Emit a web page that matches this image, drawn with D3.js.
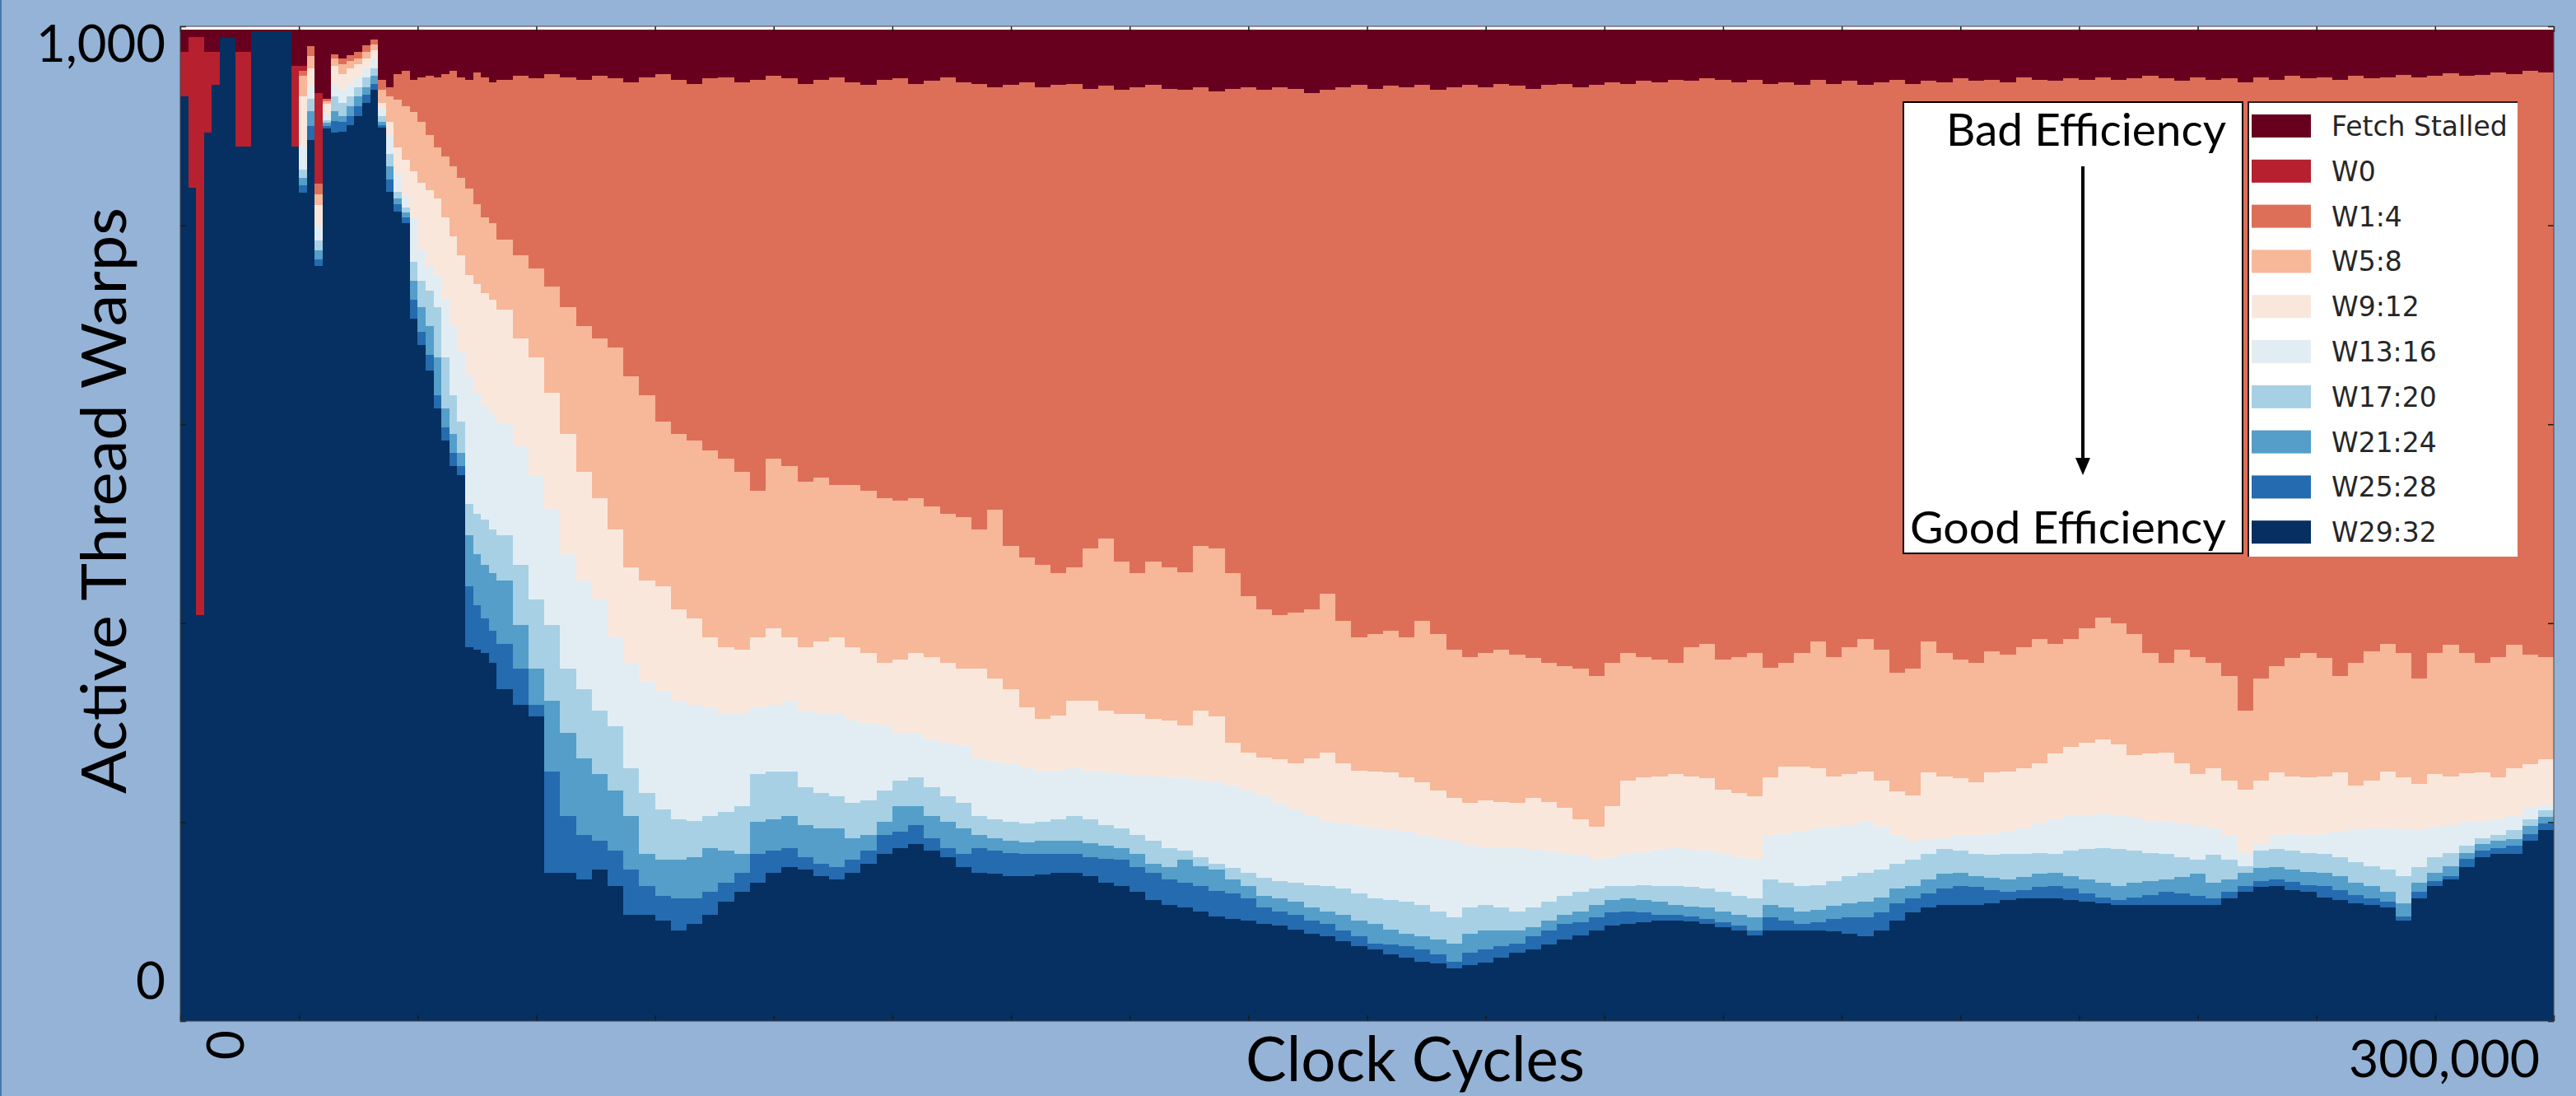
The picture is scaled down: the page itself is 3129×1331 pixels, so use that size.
<!DOCTYPE html>
<html>
<head>
<meta charset="utf-8">
<script src="https://cdn.jsdelivr.net/npm/d3@7"></script>
<style>
html, body { margin: 0; padding: 0; background: #95b3d7; }
svg { display: block; }
</style>
</head>
<body>
<svg id="chart" width="3129" height="1331"></svg>
<script>
// upper edge of each band (cumulative warps)
// 40 bins of 1,000 cycles, then 130 bins of 2,000 cycles
var edgeW29_32 = [930,838,408,893,941,988,988,879,879,995,995,995,995,995,879,833,886,759,897,893,
  894,901,910,923,936,898,834,814,802,706,680,654,616,584,558,549,376,373,370,360,
  334,318,306,149,149,142,152,136,107,107,101,91,98,107,120,130,139,149,155,152,146,142,149,158,168,174,178,171,165,155,
  149,148,146,146,147,149,149,146,139,136,130,122,117,114,110,105,103,101,98,96,92,88,85,80,75,72,67,64,60,58,
  53,56,59,64,69,72,77,82,86,91,96,98,99,101,101,100,98,94,91,86,
  91,91,91,91,90,88,85,91,101,109,114,117,117,117,118,122,123,123,123,122,120,118,117,117,117,117,117,117,117,123,
  130,135,136,132,130,124,122,118,117,114,101,123,136,142,155,165,168,168,181,192];
var edgeW25_28 = [930,838,408,893,941,988,988,879,879,995,995,995,995,995,879,840,900,766,900,905,
  904,910,920,931,942,901,846,821,808,725,693,670,629,597,571,558,437,418,405,392,
  379,354,318,251,206,187,181,171,152,136,126,123,123,130,139,149,168,171,174,165,158,155,162,171,187,190,197,184,174,168,
  174,171,169,168,168,168,168,165,163,162,155,149,142,139,136,131,128,123,114,110,107,101,98,91,85,78,77,75,72,67,
  60,69,72,75,78,85,91,98,99,104,109,110,109,107,107,105,103,99,96,91,
  104,101,98,99,103,104,104,109,118,123,128,133,136,135,132,130,132,135,136,133,128,124,122,124,127,130,128,126,123,130,
  136,141,142,140,137,136,132,127,123,120,105,130,141,146,163,171,174,176,188,199];
var edgeW21_24 = [930,838,408,893,941,988,988,879,879,995,995,995,995,995,879,848,915,775,903,915,
  910,920,930,939,950,904,859,827,813,744,718,699,667,616,590,571,488,469,459,450,
  443,398,354,322,290,264,248,232,206,168,162,162,165,174,171,168,200,203,206,197,194,194,184,187,200,216,216,206,200,194,
  187,184,181,180,181,181,181,179,176,174,168,158,155,162,156,152,142,136,126,123,120,114,110,107,101,98,92,88,85,82,
  78,88,91,91,91,94,101,107,110,117,122,123,122,120,117,115,114,110,107,104,
  117,114,110,112,116,118,120,124,133,136,142,148,149,146,144,142,145,148,149,146,142,139,136,139,141,142,145,148,139,142,
  149,154,155,152,150,149,146,139,136,130,118,139,149,156,169,178,181,183,196,205];
var edgeW17_20 = [930,838,408,893,941,988,988,879,879,995,995,995,995,995,879,856,927,785,906,930,
  923,930,939,949,958,910,872,834,818,763,744,734,718,667,629,603,520,510,504,494,
  488,459,424,398,354,334,312,296,254,229,213,203,201,206,210,216,248,251,251,235,229,226,219,222,232,242,245,235,226,219,
  206,203,200,199,200,203,206,203,197,194,187,181,174,171,165,158,154,149,144,141,139,137,136,133,128,123,122,120,117,110,
  104,114,117,114,110,114,120,126,130,133,136,136,137,136,136,135,133,130,126,123,
  142,139,136,137,141,146,149,152,158,162,168,173,171,168,167,168,168,169,168,171,173,174,173,171,169,168,165,162,167,162,
  156,171,173,171,169,168,165,160,156,152,146,155,165,169,176,184,187,192,203,212];
var edgeW13_16 = [930,838,408,893,941,988,988,879,879,995,995,995,995,995,879,880,940,800,912,942,
  936,942,949,958,968,917,891,853,830,808,776,760,750,725,699,674,648,632,619,610,
  600,578,549,514,469,443,424,386,360,341,331,322,318,315,309,309,315,318,322,312,309,309,302,299,296,290,290,283,280,277,
  264,261,258,254,251,252,254,252,250,248,247,246,245,244,242,240,237,232,226,219,213,206,201,199,196,194,192,190,187,184,
  181,176,174,174,174,173,171,169,167,163,165,168,170,172,174,173,171,168,165,163,
  187,188,191,194,195,197,200,195,187,181,182,184,186,187,188,191,194,199,203,206,206,208,206,205,201,200,199,197,194,186,
  169,178,187,188,187,188,190,192,194,194,192,192,195,197,200,201,203,206,214,218];
var edgeW9_12 = [930,838,408,893,941,988,988,879,879,995,995,995,995,995,879,930,958,820,922,960,
  952,958,962,968,976,923,904,878,866,854,843,835,827,808,789,770,750,741,732,725,
  715,686,667,632,590,552,526,494,456,443,437,414,405,386,376,373,386,395,386,376,382,386,376,370,360,363,370,366,360,354,
  354,344,334,315,304,307,322,322,312,309,309,304,302,297,312,306,280,270,265,263,259,264,270,259,252,251,250,245,240,232,
  224,219,222,220,219,224,220,214,203,195,216,242,245,246,248,246,244,233,229,226,
  245,256,256,254,246,248,251,242,231,227,250,246,244,240,250,251,254,259,269,276,280,283,278,267,269,270,259,248,254,242,
  233,242,250,246,245,246,250,237,242,251,245,238,248,246,249,250,245,254,258,263];
var edgeW5_8 = [930,838,408,893,941,988,988,879,879,995,995,995,995,995,879,950,970,831,925,968,
  962,965,968,974,982,936,930,926,920,914,904,891,878,869,859,848,837,821,808,802,
  786,770,757,738,718,699,686,677,648,629,603,590,584,574,565,552,533,565,558,542,546,539,539,533,526,523,526,517,510,507,
  494,514,478,466,459,450,456,475,485,462,450,462,456,451,478,475,450,427,414,408,411,414,430,402,386,389,392,386,402,389,
  373,366,370,373,368,365,360,357,354,347,360,370,366,363,360,376,379,363,366,370,
  355,360,370,382,366,376,384,373,350,354,382,370,363,360,372,368,376,384,379,384,395,406,400,389,370,360,373,366,360,347,
  312,344,357,365,370,365,347,360,372,379,370,344,370,378,370,360,366,378,368,366];
var edgeW1_4 = [930,838,408,893,941,988,988,879,879,995,995,995,995,995,879,955,980,842,927,972,
  968,971,974,981,987,946,939,952,955,946,949,950,949,952,955,949,946,954,949,944,
  946,950,948,952,949,946,950,948,944,949,952,946,942,948,949,944,946,950,948,942,946,949,944,941,946,948,942,945,949,944,
  942,939,941,944,939,941,942,937,940,936,939,941,937,936,939,935,937,939,936,939,937,933,936,939,941,937,940,939,941,936,
  939,941,939,942,940,937,941,942,939,941,944,942,945,944,946,945,948,946,944,946,
  942,944,941,946,942,945,941,944,946,942,945,944,948,945,946,944,949,946,945,948,946,949,946,948,950,948,945,949,946,948,
  944,949,946,950,948,949,946,950,948,949,951,949,950,953,950,951,954,952,955,954];
// W0 band thickness (only the first few bins have any)
var bandW0 = [44,151,581,81,33,0,0,95,95,0,0,0,0,0,81,5,0,91,0,0,
  0,0,0,0,0,0,0,0,0,0,0,0,0,0,0,0,0,0,0,0,
  0,0,0,0,0,0,0,0,0,0,0,0,0,0,0,0,0,0,0,0,0,0,0,0,0,0,0,0,0,0,
  0,0,0,0,0,0,0,0,0,0,0,0,0,0,0,0,0,0,0,0,0,0,0,0,0,0,0,0,0,0,
  0,0,0,0,0,0,0,0,0,0,0,0,0,0,0,0,0,0,0,0,
  0,0,0,0,0,0,0,0,0,0,0,0,0,0,0,0,0,0,0,0,0,0,0,0,0,0,0,0,0,0,
  0,0,0,0,0,0,0,0,0,0,0,0,0,0,0,0,0,0,0,0];
// top of the whole stack
var stackTop = 997;

var seriesNames = ['W29:32','W25:28','W21:24','W17:20','W13:16','W9:12','W5:8','W1:4','W0','Fetch Stalled'];
var seriesColors = ['#053061','#256baf','#549ec9','#a7d0e4','#e2edf3','#fae7dc','#f7b799','#dd6f59','#b6202f','#67001f'];

var svg = d3.select('#chart');
var W = 3129, H = 1331;

var x = d3.scaleLinear().domain([0, 300000]).range([219, 3102]);
var y = d3.scaleLinear().domain([0, 1000]).range([1240, 32]);

function binStart(i) {
    return i < 40 ? i * 1000 : 40000 + (i - 40) * 2000;
}

var edges = [edgeW29_32, edgeW25_28, edgeW21_24, edgeW17_20, edgeW13_16, edgeW9_12, edgeW5_8, edgeW1_4];

var rows = edgeW29_32.map(function(_, i) {
    var r = { cycle: binStart(i) };
    var prev = 0;
    for (var k = 0; k < edges.length; k++) {
        r[seriesNames[k]] = Math.max(0, edges[k][i] - prev);
        prev = edges[k][i];
    }
    r['W0'] = bandW0[i];
    r['Fetch Stalled'] = Math.max(0, stackTop - prev - bandW0[i]);
    return r;
});
// last step runs to the end of the axis
var endRow = Object.assign({}, rows[rows.length - 1], { cycle: 300000 });
rows.push(endRow);

var layers = d3.stack().keys(seriesNames)(rows);

// slide edge
svg.append('rect').attr('x', 0).attr('y', 0).attr('width', 2).attr('height', H).attr('fill', '#4a76b0');

// plot background
svg.append('rect')
    .attr('x', x(0)).attr('y', y(1000))
    .attr('width', x(300000) - x(0)).attr('height', y(0) - y(1000))
    .attr('fill', '#ffffff');

var area = d3.area()
    .curve(d3.curveStepAfter)
    .x(function(d) { return x(d.data.cycle); })
    .y0(function(d) { return y(d[0]); })
    .y1(function(d) { return y(d[1]); });

svg.append('g').selectAll('path')
    .data(layers)
    .enter().append('path')
    .attr('d', area)
    .attr('fill', function(d, i) { return seriesColors[i]; })
    .attr('shape-rendering', 'crispEdges');

// ticks, pointing inward on all four sides
var tickX = d3.range(0, 300001, 15000);
var tickY = d3.range(0, 1001, 200);
var axes = svg.append('g').attr('class', 'ticks');
axes.append('g').attr('transform', 'translate(0,' + y(0) + ')')
    .call(d3.axisBottom(x).tickValues(tickX).tickSize(-7).tickSizeOuter(0).tickFormat(''));
axes.append('g').attr('transform', 'translate(0,' + y(1000) + ')')
    .call(d3.axisTop(x).tickValues(tickX).tickSize(-7).tickSizeOuter(0).tickFormat(''));
axes.append('g').attr('transform', 'translate(' + x(0) + ',0)')
    .call(d3.axisLeft(y).tickValues(tickY).tickSize(-7).tickSizeOuter(0).tickFormat(''));
axes.append('g').attr('transform', 'translate(' + x(300000) + ',0)')
    .call(d3.axisRight(y).tickValues(tickY).tickSize(-7).tickSizeOuter(0).tickFormat(''));
axes.selectAll('.domain').remove();
axes.selectAll('line').attr('stroke', '#1a1a1a').attr('stroke-width', 1.5);

// frame
svg.append('rect')
    .attr('x', x(0)).attr('y', y(1000))
    .attr('width', x(300000) - x(0)).attr('height', y(0) - y(1000))
    .attr('fill', 'none').attr('stroke', '#444').attr('stroke-width', 1);

var calib = 'Lato, "Open Sans", sans-serif';

// tick labels
svg.append('text').text('1,000')
    .attr('x', x(0) - 18).attr('y', y(1000) + 43)
    .attr('text-anchor', 'end').attr('font-family', calib).attr('font-size', 62)
    .attr('textLength', 157).attr('lengthAdjust', 'spacingAndGlyphs').attr('fill', '#000');
svg.append('text').text('0')
    .attr('x', x(0) - 18).attr('y', y(0) - 27)
    .attr('text-anchor', 'end').attr('font-family', calib).attr('font-size', 62).attr('fill', '#000');
svg.append('text').text('0')
    .attr('transform', 'translate(' + (x(0) + 53) + ',1269) rotate(-90)')
    .attr('text-anchor', 'middle').attr('dominant-baseline', 'central')
    .attr('font-family', calib).attr('font-size', 62).attr('fill', '#000');
svg.append('text').text('300,000')
    .attr('x', x(300000) - 17).attr('y', 1308)
    .attr('text-anchor', 'end').attr('font-family', calib).attr('font-size', 62)
    .attr('textLength', 232).attr('lengthAdjust', 'spacingAndGlyphs').attr('fill', '#000');

// axis titles
svg.append('text').text('Clock Cycles')
    .attr('x', 1719).attr('y', 1313)
    .attr('text-anchor', 'middle').attr('font-family', calib).attr('font-size', 76)
    .attr('textLength', 412).attr('lengthAdjust', 'spacingAndGlyphs').attr('fill', '#000');
svg.append('text').text('Active Thread Warps')
    .attr('transform', 'translate(153,608) rotate(-90)')
    .attr('text-anchor', 'middle').attr('font-family', calib).attr('font-size', 76)
    .attr('textLength', 712).attr('lengthAdjust', 'spacingAndGlyphs').attr('fill', '#000');

// efficiency box
var eff = svg.append('g');
eff.append('rect').attr('x', 2312).attr('y', 124).attr('width', 412).attr('height', 548)
    .attr('fill', '#fff').attr('stroke', '#000').attr('stroke-width', 2);
eff.append('text').text('Bad Efficiency')
    .attr('x', 2704).attr('y', 177).attr('text-anchor', 'end')
    .attr('font-family', calib).attr('font-size', 55)
    .attr('textLength', 340).attr('lengthAdjust', 'spacingAndGlyphs').attr('fill', '#000');
eff.append('text').text('Good Efficiency')
    .attr('x', 2704).attr('y', 660).attr('text-anchor', 'end')
    .attr('font-family', calib).attr('font-size', 55)
    .attr('textLength', 384).attr('lengthAdjust', 'spacingAndGlyphs').attr('fill', '#000');
eff.append('line').attr('x1', 2530).attr('y1', 202).attr('x2', 2530).attr('y2', 560)
    .attr('stroke', '#000').attr('stroke-width', 4);
eff.append('path').attr('d', 'M2521,556 L2539,556 L2530,577 Z').attr('fill', '#000');

// legend
var leg = svg.append('g');
leg.append('rect').attr('x', 2730).attr('y', 123).attr('width', 328).attr('height', 553).attr('fill', '#fff');
leg.append('path').attr('d', 'M2731,676 L2731,124 L3058,124')
    .attr('fill', 'none').attr('stroke', '#222').attr('stroke-width', 2);

var legendOrder = seriesNames.slice().reverse();
var legendColors = seriesColors.slice().reverse();
var item = leg.selectAll('g.item')
    .data(legendOrder)
    .enter().append('g')
    .attr('transform', function(d, i) { return 'translate(0,' + (153 + i * 54.8) + ')'; });
item.append('rect')
    .attr('x', 2735).attr('y', -14).attr('width', 72).attr('height', 28)
    .attr('fill', function(d, i) { return legendColors[i]; });
item.append('text')
    .text(function(d) { return d; })
    .attr('x', 2832).attr('y', 12)
    .attr('font-family', '"DejaVu Sans", sans-serif').attr('font-size', 33)
    .attr('fill', '#262626');
</script>
</body>
</html>
